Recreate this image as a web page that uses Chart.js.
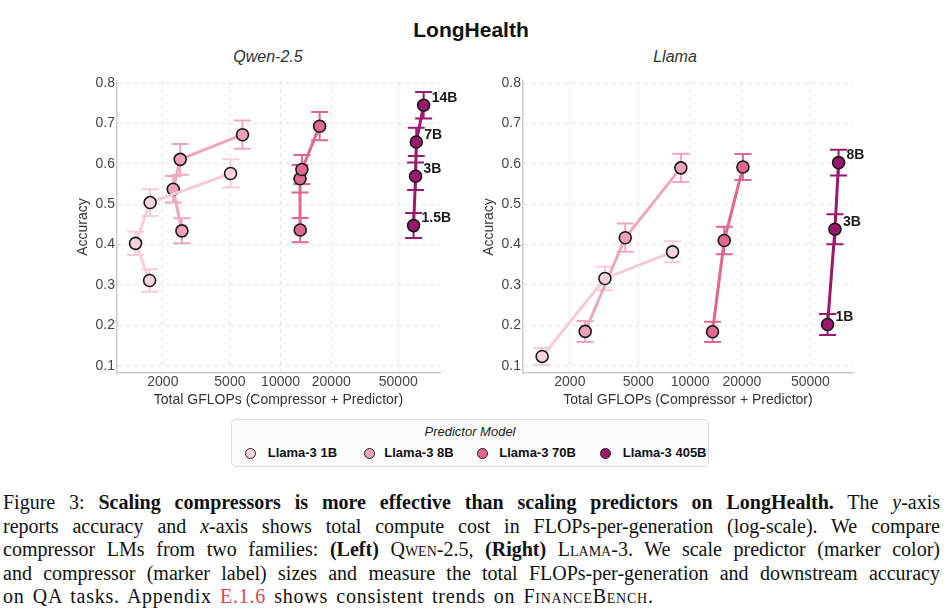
<!DOCTYPE html>
<html>
<head>
<meta charset="utf-8">
<script src="https://cdn.jsdelivr.net/npm/chart.js@4.4.1/dist/chart.umd.min.js"></script>
<style>
  body { margin: 0; background: #fff; }
  #page { position: relative; width: 948px; height: 610px; overflow: hidden; font-family: "Liberation Sans", Arial, sans-serif; }
  .box { position: absolute; }
  .sub { position: absolute; width: 200px; text-align: center; font-style: italic; font-size: 16px; line-height: 20px; color: #333; }
  #legend { position: absolute; left: 231px; top: 419px; width: 478px; height: 48px; box-sizing: border-box;
            border: 1px solid #dcdcdc; border-radius: 5px; background: #fcfcfc; }
  #legend .ttl { position: absolute; left: 0; width: 100%; top: 4px; text-align: center; font-style: italic; font-size: 13px; line-height: 16px; color: #222; }
  #legend .dot { position: absolute; width: 11px; height: 11px; border-radius: 50%; border: 1.3px solid #222; box-sizing: border-box; }
  #legend .lab { position: absolute; font-weight: bold; font-size: 13px; line-height: 16px; color: #111; white-space: nowrap; }
  #caption { position: absolute; left: 3px; top: 491px; width: 937px; font-family: "Liberation Serif", "Times New Roman", serif; font-size: 20px; color: #111; }
  #caption div { height: 23.6px; line-height: 23.6px; white-space: nowrap; text-align: justify; text-align-last: justify; }
  #caption div.last { text-align-last: left; letter-spacing: 0.75px; word-spacing: 2.5px; }
  .sc { font-variant: small-caps; }
  .ref { color: #e0474c; }
</style>
</head>
<body>
<div id="page">
  <div class="box" style="left:0;top:18px;width:942px;text-align:center;font-weight:bold;font-size:21px;line-height:24px;color:#111;">LongHealth</div>
  <div class="sub" style="left:168px;top:47px;">Qwen-2.5</div>
  <div class="sub" style="left:575px;top:47px;">Llama</div>
  <div class="box" style="left:47px;top:69px;width:433px;height:349px;"><canvas id="qwen"></canvas></div>
  <div class="box" style="left:453px;top:69px;width:440px;height:349px;"><canvas id="llama"></canvas></div>
  <div id="legend"><div class="ttl">Predictor Model</div></div>
  <div id="caption">
    <div>Figure 3: <b>Scaling compressors is more effective than scaling predictors on LongHealth.</b> The <i>y</i>-axis</div>
    <div>reports accuracy and <i>x</i>-axis shows total compute cost in FLOPs-per-generation (log-scale). We compare</div>
    <div>compressor LMs from two families: <b>(Left)</b> <span class="sc">Qwen</span>-2.5, <b>(Right)</b> <span class="sc">Llama</span>-3. We scale predictor (marker color)</div>
    <div>and compressor (marker label) sizes and measure the total FLOPs-per-generation and downstream accuracy</div>
    <div class="last">on QA tasks. Appendix <span class="ref">E.1.6</span> shows consistent trends on <span class="sc">FinanceBench</span>.</div>
  </div>
</div>
<script>
// predictor models (marker colour) and compressor sizes (marker label)
const predictors = ['Llama-3 1B', 'Llama-3 8B', 'Llama-3 70B', 'Llama-3 405B'];
const fillColors = ['#f8d3df', '#eda1bb', '#e06792', '#9c186e'];
const lineColors = ['#f8cbda', '#efa6c0', '#e06792', '#9c186e'];

const qwenSizes = ['1.5B', '3B', '7B', '14B'];
const llamaSizes = ['1B', '3B', '8B'];

// Qwen-2.5 compressors, one row per predictor
const qwenFlops = [
  [1668, 1376, 1680, 5046],
  [2594, 2304, 2535, 5944],
  [13086, 13050, 13390, 17060],
  [61660, 63380, 63970, 70760]
];
const qwenAcc = [
  [0.311, 0.403, 0.504, 0.576],
  [0.434, 0.537, 0.611, 0.672],
  [0.436, 0.563, 0.586, 0.693],
  [0.447, 0.569, 0.654, 0.745]
];
const qwenErr = [
  [0.028, 0.029, 0.033, 0.035],
  [0.031, 0.033, 0.038, 0.035],
  [0.030, 0.034, 0.036, 0.035],
  [0.031, 0.034, 0.035, 0.033]
];

// Llama-3 compressors, one row per predictor
const llamaFlops = [
  [1380, 3197, 7905],
  [2455, 4197, 8835],
  [13500, 15790, 20280],
  [62950, 69500, 72950]
];
const llamaAcc = [
  [0.123, 0.316, 0.382],
  [0.185, 0.417, 0.590],
  [0.184, 0.410, 0.592],
  [0.202, 0.438, 0.603]
];
const llamaErr = [
  [0.021, 0.029, 0.026],
  [0.026, 0.035, 0.035],
  [0.025, 0.034, 0.032],
  [0.026, 0.037, 0.032]
];

const xTicks = [2000, 5000, 10000, 20000, 50000];
const yTicks = [0.1, 0.2, 0.3, 0.4, 0.5, 0.6, 0.7, 0.8];

// legend
const legend = document.getElementById('legend');
const dotX = [18, 137, 250, 373];
const labX = [35.7, 152.3, 267.3, 390.7];
predictors.forEach((name, i) => {
  const d = document.createElement('div');
  d.className = 'dot';
  d.style.left = (dotX[i] - 5.5) + 'px';
  d.style.top = (33 - 5.5) + 'px';
  d.style.background = fillColors[i];
  legend.appendChild(d);
  const t = document.createElement('div');
  t.className = 'lab';
  t.style.left = labX[i] + 'px';
  t.style.top = (33 - 8) + 'px';
  t.textContent = name;
  legend.appendChild(t);
});

const errorBars = {
  id: 'errorBars',
  beforeDatasetsDraw(chart) {
    const { ctx, scales: { x, y } } = chart;
    chart.data.datasets.forEach(ds => {
      ctx.save();
      ctx.strokeStyle = ds.borderColor;
      ctx.lineWidth = 2;
      ds.data.forEach(p => {
        const px = x.getPixelForValue(p.x);
        const hi = y.getPixelForValue(p.y + p.err);
        const lo = y.getPixelForValue(p.y - p.err);
        ctx.beginPath();
        ctx.moveTo(px, hi); ctx.lineTo(px, lo);
        ctx.moveTo(px - 8.5, hi); ctx.lineTo(px + 8.5, hi);
        ctx.moveTo(px - 8.5, lo); ctx.lineTo(px + 8.5, lo);
        ctx.stroke();
      });
      ctx.restore();
    });
  }
};

const sizeLabels = {
  id: 'sizeLabels',
  afterDatasetsDraw(chart) {
    const { ctx, scales: { x, y } } = chart;
    chart.data.datasets.forEach(ds => {
      if (!ds.sizes) return;
      ctx.save();
      ctx.font = 'bold 14px "Liberation Sans", Arial, sans-serif';
      ctx.fillStyle = '#1a1a1a';
      ctx.textAlign = 'left';
      ctx.textBaseline = 'middle';
      ds.data.forEach((p, i) => {
        ctx.fillText(ds.sizes[i], x.getPixelForValue(p.x) + 8, y.getPixelForValue(p.y) - 7);
      });
      ctx.restore();
    });
  }
};

function makeChart(id, flops, acc, err, sizes) {
  const datasets = predictors.map((name, i) => ({
    label: name,
    data: flops[i].map((f, j) => ({ x: f, y: acc[i][j], err: err[i][j] })),
    showLine: true,
    borderColor: lineColors[i],
    borderWidth: 3,
    pointBackgroundColor: fillColors[i],
    pointBorderColor: '#1a1a1a',
    pointBorderWidth: 1.6,
    pointRadius: 6,
    pointHoverRadius: 6,
    sizes: i === 3 ? sizes : null
  }));

  new Chart(document.getElementById(id), {
    type: 'scatter',
    data: { datasets },
    plugins: [errorBars, sizeLabels],
    options: {
      responsive: true,
      maintainAspectRatio: false,
      animation: false,
      layout: { padding: { top: 12, right: 40, bottom: 0, left: 0 } },
      plugins: { legend: { display: false }, tooltip: { enabled: false } },
      scales: {
        x: {
          type: 'logarithmic',
          min: 1068,
          max: 88500,
          bounds: 'data',
          afterBuildTicks: s => { s.ticks = xTicks.map(v => ({ value: v })); },
          afterFit: s => { s.height = 45; },
          ticks: {
            callback: v => String(v),
            autoSkip: false, maxRotation: 0, padding: 1,
            color: '#444', font: { size: 14, family: '"Liberation Sans", Arial, sans-serif' }
          },
          grid: { color: '#e4e4e4', lineWidth: 1, drawTicks: false },
          border: { display: true, color: '#cccccc', width: 1.5, dash: [4, 4] },
          title: {
            display: true, text: 'Total GFLOPs (Compressor + Predictor)',
            color: '#333', padding: { top: 0, bottom: 9.6 },
            font: { size: 14, family: '"Liberation Sans", Arial, sans-serif' }
          }
        },
        y: {
          min: 0.082,
          max: 0.805,
          bounds: 'data',
          afterBuildTicks: s => { s.ticks = yTicks.map(v => ({ value: v })); },
          afterFit: s => { s.width = 70; },
          ticks: {
            callback: v => v.toFixed(1),
            padding: 2,
            color: '#444', font: { size: 14, family: '"Liberation Sans", Arial, sans-serif' }
          },
          grid: { color: '#e4e4e4', lineWidth: 1, drawTicks: false },
          border: { display: true, color: '#cccccc', width: 1.5, dash: [4, 4] },
          title: {
            display: true, text: 'Accuracy',
            color: '#333', padding: { top: 27.3, bottom: 0 },
            font: { size: 14, family: '"Liberation Sans", Arial, sans-serif' }
          }
        }
      }
    }
  });
}

makeChart('qwen', qwenFlops, qwenAcc, qwenErr, qwenSizes);
makeChart('llama', llamaFlops, llamaAcc, llamaErr, llamaSizes);
</script>
</body>
</html>
